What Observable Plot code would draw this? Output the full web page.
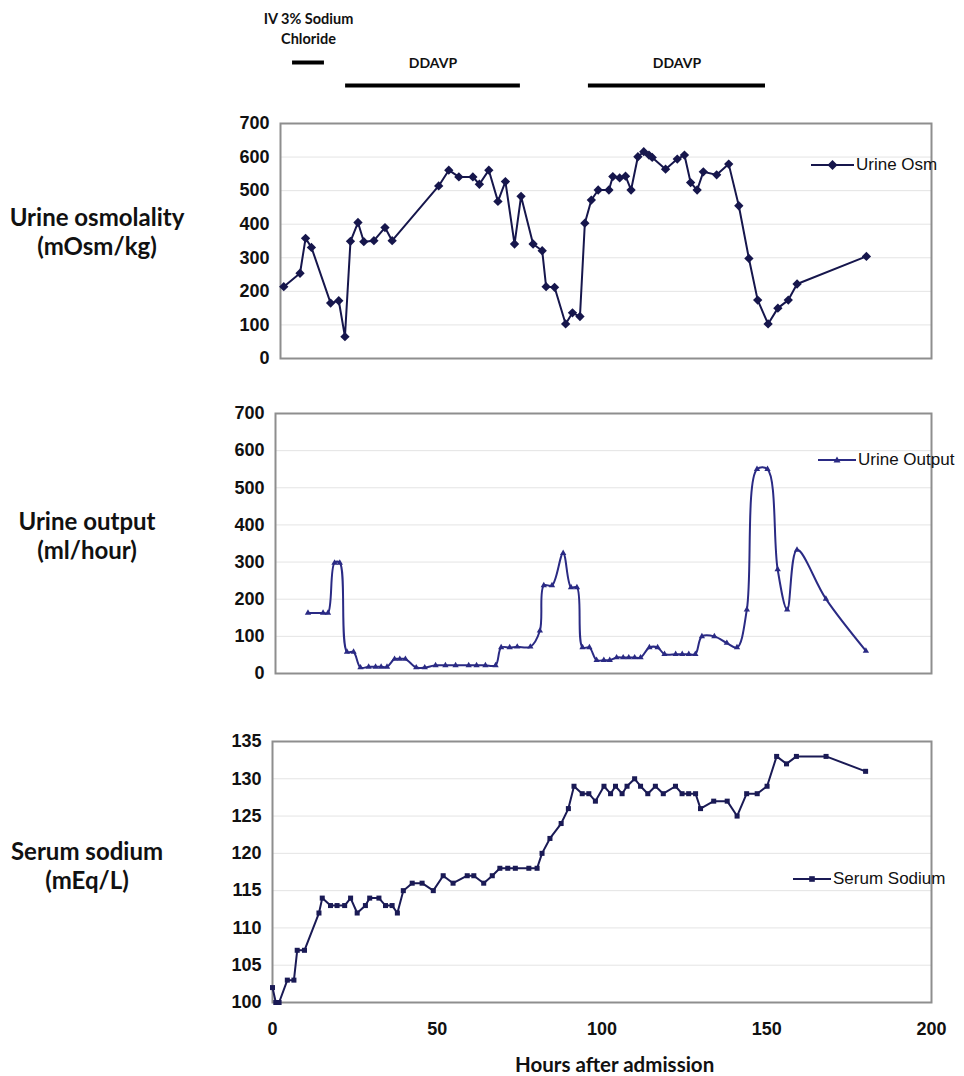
<!DOCTYPE html>
<html><head><meta charset="utf-8">
<script src="https://cdn.jsdelivr.net/npm/d3@7"></script>
<script src="https://cdn.jsdelivr.net/npm/@observablehq/plot@0.6"></script>
<style>
body{margin:0;background:#fff;}
#root{position:relative;width:964px;height:1076px;overflow:hidden;font-family:"Liberation Sans",Arial,sans-serif;background:#fff;}
#root svg{position:absolute;left:0;overflow:visible;}
.ylab{position:absolute;font-family:Lato,sans-serif;font-weight:bold;font-size:24px;text-align:center;line-height:29px;color:#111;white-space:nowrap;}
.leg{position:absolute;display:flex;align-items:center;font-size:17px;color:#111;white-space:nowrap;}
.leg svg{position:static !important;}
.xlab{position:absolute;font-family:Lato,sans-serif;font-weight:bold;font-size:20.5px;color:#111;white-space:nowrap;}
</style></head><body><div id="root"></div>
<script>
// ---------- data ----------
const osmHours = [1,6,7.7,9.5,15.4,17.9,19.8,21.5,23.8,25.6,28.7,32.1,34.3,48.6,51.7,54.8,59.1,61.1,64.0,66.8,69.1,71.9,73.9,77.6,80.4,81.6,84.2,87.6,89.7,92.0,93.5,95.5,97.6,100.9,102.1,104.2,106.0,107.7,109.8,111.6,113.2,114.2,118.3,121.9,124.1,126.0,128.0,129.9,134.0,137.7,140.8,143.9,146.6,149.8,152.8,156.0,158.7,180];
const osmValues = [214,254,358,331,165,172,65,349,405,348,351,390,351,514,561,541,541,519,561,468,527,341,483,341,321,214,212,103,136,125,403,472,502,502,542,538,543,502,601,616,606,599,564,594,606,524,502,556,547,579,455,298,174,103,150,174,222,304];

const outHours = [9.9,14.5,16,18.0,19.6,21.8,23.8,25.9,28.4,30.5,32.2,34.0,36.3,37.9,39.6,42.9,45.5,48.8,51.8,54.9,58.9,61.3,64.0,67.1,68.8,71.4,73.7,77.7,80.6,81.8,84.3,87.7,90.1,91.9,93.6,95.7,97.9,100.1,101.9,104.0,106.0,107.7,109.5,111.3,114.0,116.5,118.6,122.0,124.0,126.0,128.0,130.0,133.8,137.6,140.7,143.7,146.8,150.0,153.1,156.0,159.0,167.8,180];
const outValues = [163,163,163,298,298,58,58,16,18,18,18,18,39,39,39,16,16,22,22,22,22,22,22,22,70,70,72,72,115,237,237,324,232,232,70,70,36,36,36,43,43,43,43,43,70,70,52,52,52,52,52,100,100,82,70,172,550,550,280,172,333,201,61];

const naHours = [0,1,2,4.5,6.5,7.5,9.7,14.1,15.1,17.6,19.6,21.9,23.7,25.7,28.2,29.5,32.3,34.3,36.3,37.9,39.7,42.4,45.4,48.8,51.8,54.8,59.1,61.1,64.1,66.7,69.0,71.4,73.7,77.8,80.3,81.8,84.2,87.6,89.8,91.5,94.0,96.0,98.0,100.6,102.6,104.1,106.1,107.6,109.9,111.7,113.9,116.2,118.6,122.3,124.3,126.3,128.4,129.9,133.9,138.0,141.0,143.9,147.1,150.1,153.0,156.0,159.0,168.0,180];
const naValues = [102,100,100,103,103,107,107,112,114,113,113,113,114,112,113,114,114,113,113,112,115,116,116,115,117,116,117,117,116,117,118,118,118,118,118,120,122,124,126,129,128,128,127,129,128,129,128,129,130,129,128,129,128,129,128,128,128,126,127,127,125,128,128,129,133,132,133,133,131];

const treatLabels = ["IV 3% Sodium\nChloride","DDAVP","DDAVP"];
const treatKinds = ["iv","ddavp","ddavp"];
const treatStart = [3.7,20,94.6];
const treatEnd = [13.5,73.7,149];

const osmTicks = [0,100,200,300,400,500,600,700];
const outTicks = [0,100,200,300,400,500,600,700];
const naTicks = [100,105,110,115,120,125,130,135];
const hourTicks = [0,50,100,150,200];

const seriesNames = ["Urine Osm","Urine Output","Serum Sodium"];
const panelLabels = [["Urine osmolality","(mOsm/kg)"],["Urine output","(ml/hour)"],["Serum sodium","(mEq/L)"]];
const xTitle = "Hours after admission";

// ---------- build ----------
const root = document.getElementById("root");
const zip = (xs, ys) => xs.map((h, i) => ({h, v: ys[i]}));
const treatments = treatLabels.map((label, i) => ({label, kind: treatKinds[i], start: treatStart[i], end: treatEnd[i], mid: (treatStart[i] + treatEnd[i]) / 2}));

function place(el, top) { el.style.top = top + "px"; root.appendChild(el); }

// treatment annotations
const ann = Plot.plot({
  width: 964, height: 100, marginLeft: 280, marginRight: 33, marginTop: 0, marginBottom: 0,
  x: {domain: [0, 200], axis: null},
  y: {type: "identity", axis: null},
  style: {fontFamily: "Lato, sans-serif", fontSize: "14px", color: "#111", background: "transparent"},
  marks: [
    Plot.ruleY(treatments, {x1: "start", x2: "end", y: d => d.kind === "iv" ? 62 : 85, stroke: "#000", strokeWidth: 4}),
    Plot.text(treatments, {x: "mid", y: d => d.kind === "iv" ? 27 : 61, text: "label", lineHeight: 1.35, fill: "#111", fontWeight: "bold", fontSize: d => d.kind === "iv" ? 14.5 : 14})
  ]
});
place(ann, 0);

function panel({data, ticks, domain, symbol, r, color, curve, left, top, frameH, xAxis}) {
  const marginTop = 20, marginBottom = xAxis ? 40 : 10;
  const marks = [
    Plot.gridY(ticks.slice(1, -1), {stroke: "#e4e4e4", strokeOpacity: 1, strokeWidth: 1}),
    Plot.frame({stroke: "#8e8e8e", strokeWidth: 2}),
    Plot.axisY(ticks, {tickSize: 0, tickPadding: 11, fontWeight: "bold", label: null}),
    Plot.line(data, {x: "h", y: "v", stroke: color, strokeWidth: 2, curve}),
    Plot.dot(data, {x: "h", y: "v", symbol, r, fill: color, stroke: "none"})
  ];
  if (xAxis) marks.push(Plot.axisX(hourTicks, {tickSize: 0, tickPadding: 20, fontWeight: "bold", label: null}));
  const p = Plot.plot({
    width: 964, height: marginTop + frameH + marginBottom,
    marginLeft: left, marginRight: 33, marginTop, marginBottom,
    x: {domain: [0, 200], axis: xAxis ? undefined : null},
    y: {domain},
    style: {fontFamily: "'Liberation Sans', Arial, sans-serif", fontSize: "18px", color: "#111", background: "transparent"},
    marks
  });
  place(p, top - marginTop);
}

panel({data: zip(osmHours, osmValues), ticks: osmTicks, domain: [0, 700], symbol: "diamond2", r: 4.2, color: "#16164c", curve: "linear", left: 280, top: 123, frameH: 235, xAxis: false});
panel({data: zip(outHours, outValues), ticks: outTicks, domain: [0, 700], symbol: "triangle2", r: 3, color: "#2a2a84", curve: "catmull-rom", left: 275, top: 413, frameH: 260, xAxis: false});
panel({data: zip(naHours, naValues), ticks: naTicks, domain: [100, 135], symbol: "square2", r: 3.2, color: "#1a1a55", curve: "linear", left: 272, top: 741, frameH: 261, xAxis: true});

// left labels
const labelPos = [{cx: 97, top: 202}, {cx: 87, top: 506}, {cx: 87, top: 836}];
panelLabels.forEach((lines, i) => {
  const d = document.createElement("div");
  d.className = "ylab";
  d.innerHTML = lines.join("<br>");
  d.style.left = (labelPos[i].cx - 150) + "px";
  d.style.width = "300px";
  place(d, labelPos[i].top);
});

// legends
const legSpec = [
  {x: 811, y: 165, w: 43, sym: "diamond", color: "#16164c"},
  {x: 818, y: 460, w: 38, sym: "triangle", color: "#2a2a84"},
  {x: 793, y: 879, w: 38, sym: "square", color: "#1a1a55"}
];
legSpec.forEach((s, i) => {
  const d = document.createElement("div");
  d.className = "leg";
  d.style.left = s.x + "px";
  const cx = s.w / 2;
  let m = "";
  if (s.sym === "diamond") m = `<path d="M${cx},1 L${cx+5},6 L${cx},11 L${cx-5},6Z" fill="${s.color}"/>`;
  if (s.sym === "triangle") m = `<path d="M${cx},2.5 L${cx+3.5},8.5 L${cx-3.5},8.5Z" fill="${s.color}"/>`;
  if (s.sym === "square") m = `<rect x="${cx-2.8}" y="3.2" width="5.6" height="5.6" fill="${s.color}"/>`;
  d.innerHTML = `<svg width="${s.w}" height="12"><line x1="0" x2="${s.w}" y1="6" y2="6" stroke="${s.color}" stroke-width="2"/>${m}</svg><span style="margin-left:2px">${seriesNames[i]}</span>`;
  place(d, s.y - 10);
});

// x title
const xt = document.createElement("div");
xt.className = "xlab";
xt.textContent = xTitle;
xt.style.left = "515px";
place(xt, 1052);
</script>
</body></html>
